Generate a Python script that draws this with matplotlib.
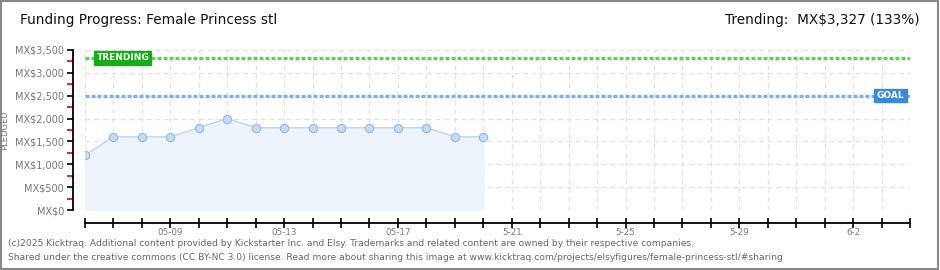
import numpy as np
import pandas as pd
import matplotlib
matplotlib.use('Agg')
import matplotlib.pyplot as plt
from matplotlib.patches import Rectangle

# donnees
dates = pd.to_datetime(['2025-05-06', '2025-05-07', '2025-05-08', '2025-05-09', '2025-05-10',
                        '2025-05-11', '2025-05-12', '2025-05-13', '2025-05-14', '2025-05-15',
                        '2025-05-16', '2025-05-17', '2025-05-18', '2025-05-19', '2025-05-20'])
pledged = [1200, 1600, 1600, 1600, 1800, 2000, 1800, 1800, 1800, 1800, 1800, 1800, 1800, 1600, 1600]
goal = 2500
trending = 3327
x_start = pd.Timestamp('2025-05-06')
x_end = pd.Timestamp('2025-06-04')
label_days = ['2025-05-09', '2025-05-13', '2025-05-17', '2025-05-21', '2025-05-25', '2025-05-29', '2025-06-02']
label_text = ['05-09', '05-13', '05-17', '5-21', '5-25', '5-29', '6-2']
y_ticks = [0, 500, 1000, 1500, 2000, 2500, 3000, 3500]

gris = '#777777'
fig = plt.figure(figsize=(9.4, 2.7), dpi=100)
fig.patch.set_facecolor('white')
fig.add_artist(Rectangle((0.001, 0.004), 0.997, 0.993, transform=fig.transFigure,
                         fill=False, edgecolor='#888888', linewidth=1.5))

ax = fig.add_axes([85/940, 60/270, 825/940, 160/270])
ax.set_xlim(x_start, x_end)
ax.set_ylim(0, 3500)

# grille
ax.grid(True, which='major', linestyle=(0, (4, 3)), color='#e2e2e2', linewidth=0.9)
ax.set_axisbelow(True)

# surface + courbe
ax.fill_between(dates, pledged, 0, color='#edf4fc', zorder=1)
ax.plot(dates, pledged, '-', color='#bcd6f2', linewidth=1, zorder=2)
ax.plot(dates, pledged, 'o', markersize=6, markerfacecolor='#c3dbf5',
        markeredgecolor='#9bb8db', markeredgewidth=0.8, zorder=3)

# lignes objectif / tendance
ax.axhline(goal, color='#7fb1e6', linestyle=(0, (1.2, 0.6)), linewidth=2.4, zorder=2)
ax.axhline(trending, color='#5fd055', linestyle=(0, (1.2, 0.6)), linewidth=2.4, zorder=2)
ax.text(x_start + pd.Timedelta(days=0.4), trending, 'TRENDING', color='white', fontsize=6.5,
        fontweight='bold', va='center', ha='left', zorder=4,
        bbox=dict(boxstyle='square,pad=0.25', facecolor='#18ad18', edgecolor='#18ad18'))
ax.text(x_end - pd.Timedelta(days=0.2), goal, 'GOAL', color='white', fontsize=6.5,
        fontweight='bold', va='center', ha='right', zorder=4,
        bbox=dict(boxstyle='square,pad=0.25', facecolor='#3c89d8', edgecolor='#3c89d8'))

# axes
for s in ['top', 'right']:
    ax.spines[s].set_visible(False)
ax.spines['left'].set_position(('outward', 9))
ax.spines['bottom'].set_position(('outward', 9))
ax.spines['left'].set_linewidth(1.3)
ax.spines['bottom'].set_linewidth(1.3)

ax.set_yticks(y_ticks)
ax.set_yticklabels(['MX$' + format(v, ',') for v in y_ticks], color=gris, fontsize=7)
ax.set_yticks(np.arange(250, 3500, 500), minor=True)
ax.tick_params(axis='y', which='major', length=4, width=1.2, color='black', pad=2)
ax.tick_params(axis='y', which='minor', length=4, width=1.2, color='#dd0000')

jours = pd.date_range(x_start, x_end, freq='D')
etiquettes = dict(zip(pd.to_datetime(label_days), label_text))
ax.set_xticks(jours)
ax.set_xticklabels([etiquettes.get(j, '') for j in jours], color=gris, fontsize=6.3)
ax.tick_params(axis='x', which='major', direction='inout', length=7, width=1.2, color='black', pad=0.5)
ax.set_ylabel('PLEDGED', color=gris, fontsize=6)
ax.yaxis.set_label_coords(-76/825, 0.5)

# titres
fig.text(20/940, 1 - 20/270, 'Funding Progress: Female Princess stl', fontsize=9.8,
         color='#111111', va='center', ha='left')
fig.text(920/940, 1 - 20/270, 'Trending:  MX$3,327 (133%)', fontsize=9.8,
         color='#111111', va='center', ha='right')

# pied de page
fig.text(8/940, 1 - 244/270, '(c)2025 Kicktraq. Additional content provided by Kickstarter Inc. and Elsy. '
         'Trademarks and related content are owned by their respective companies.',
         fontsize=6.6, color='#666666', va='center', ha='left')
fig.text(8/940, 1 - 257/270, 'Shared under the creative commons (CC BY-NC 3.0) license. Read more about '
         'sharing this image at www.kicktraq.com/projects/elsyfigures/female-princess-stl/#sharing',
         fontsize=6.6, color='#666666', va='center', ha='left')

plt.savefig('out.png', dpi=100)
